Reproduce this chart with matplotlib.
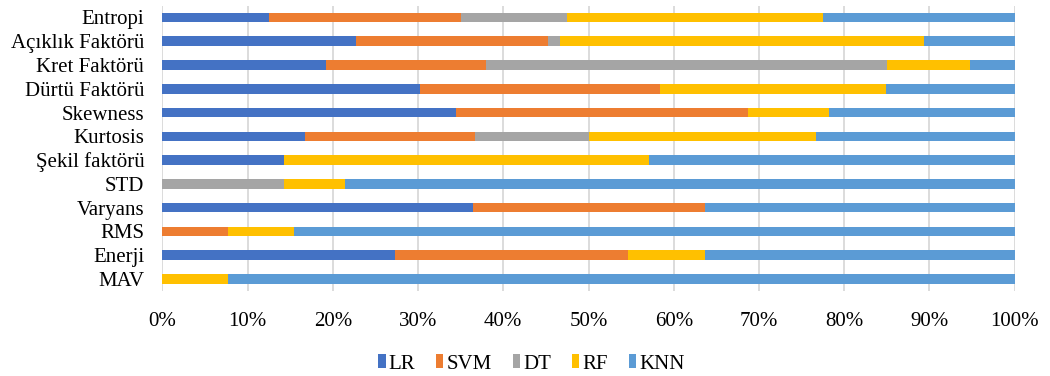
import matplotlib
matplotlib.use("Agg")
import matplotlib.pyplot as plt
import numpy as np

plt.rcParams['font.family'] = ['Liberation Serif', 'DejaVu Serif']

# Features, listed bottom to top
features = ["MAV", "Enerji", "RMS", "Varyans", "STD", "Şekil faktörü",
            "Kurtosis", "Skewness", "Dürtü Faktörü", "Kret Faktörü",
            "Açıklık Faktörü", "Entropi"]

# Share (%) of each classifier per feature
lr  = [0.0, 27.3, 0.0, 36.4, 0.0, 14.3, 16.7, 34.4, 30.2, 19.2, 22.7, 12.5]
svm = [0.0, 27.3, 7.7, 27.3, 0.0, 0.0, 20.0, 34.3, 28.2, 18.8, 22.6, 22.5]
dt  = [0.0, 0.0, 0.0, 0.0, 14.3, 0.0, 13.3, 0.0, 0.0, 47.0, 1.4, 12.5]
rf  = [7.7, 9.1, 7.7, 0.0, 7.1, 42.8, 26.7, 9.5, 26.5, 9.7, 42.6, 30.0]
knn = [92.3, 36.3, 84.6, 36.3, 78.6, 42.9, 23.3, 21.8, 15.1, 5.3, 10.7, 22.5]

series = [("LR", lr, "#4472C4"), ("SVM", svm, "#ED7D31"),
          ("DT", dt, "#A5A5A5"), ("RF", rf, "#FFC000"),
          ("KNN", knn, "#5B9BD5")]

fig = plt.figure(figsize=(10.5, 3.76), dpi=100)
ax = fig.add_axes([0.1546, 0.2269, 0.8118, 0.7582])

y = np.arange(len(features))
left = np.zeros(len(features))
for name, vals, color in series:
    vals = np.array(vals, dtype=float)
    ax.barh(y, vals, left=left, height=0.4, color=color, label=name,
            zorder=3)
    left += vals

ax.set_xlim(0, 100)
ax.set_ylim(-0.5, len(features) - 0.5)
ax.set_xticks(np.arange(0, 101, 10))
ax.set_xticklabels([f"{v}%" for v in range(0, 101, 10)])
ax.set_yticks(y)
ax.set_yticklabels(features)
ax.xaxis.grid(True, color="#D9D9D9", linewidth=1.3, zorder=0)
ax.set_axisbelow(True)
for s in ax.spines.values():
    s.set_visible(False)
ax.tick_params(axis="both", length=0, labelsize=15)
ax.tick_params(axis="x", pad=15)
ax.tick_params(axis="y", pad=13)

leg = fig.legend(loc="center", bbox_to_anchor=(0.506, 0.032), ncol=5,
                 frameon=False, fontsize=15, handlelength=0.35,
                 handleheight=0.65, handletextpad=0.15, columnspacing=1.0,
                 borderaxespad=0)

fig.savefig("out.png", dpi=100)
